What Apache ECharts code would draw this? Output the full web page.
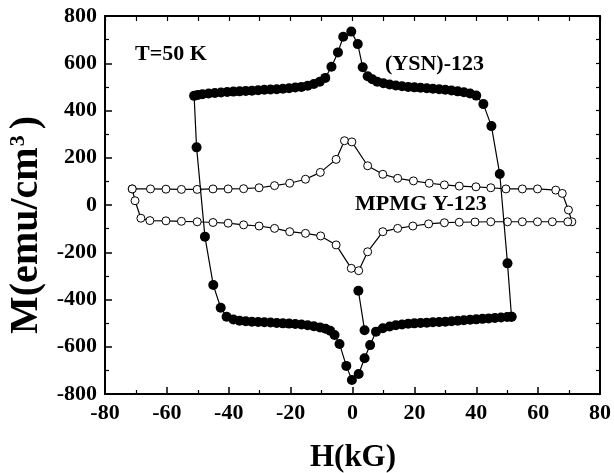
<!DOCTYPE html>
<html>
<head>
<meta charset="utf-8">
<script src="https://cdn.jsdelivr.net/npm/echarts@6/dist/echarts.min.js"></script>
<style>
  html, body { margin: 0; padding: 0; background: #fff; }
  #main { width: 614px; height: 473px; }
</style>
</head>
<body>
<div id="main"></div>
<script>
// (YSN)-123 loop, [H (kG), M (emu/cm3)], traced in sweep order
var ysnLoop = [
  [51.4,-473],[50.1,-247],[47.6,131],[44.9,334],[42.3,427],[40,463],[38,472],[36,477],
  [34,481],[32,485],[30,488],[28,490],[26,492],[24,494],[22,496],[20,498],[18,500],
  [16,503],[14,506],[12,510],[10,515],[8,522],[6.4,532],[4.9,545],[3.3,583],[1.7,681],
  [-0.4,734],[-3,712],[-4.7,646],[-6.8,585],[-8.8,538],[-10.6,522],[-12.5,512],
  [-14.5,505],[-16.5,500],[-18.5,497],[-20.5,494],[-22.5,492],[-24.5,490],[-26.5,489],
  [-28.5,488],[-30.5,486],[-32.5,484],[-34.5,483],[-36.5,481],[-38.5,480],[-40.5,478],
  [-42.5,476],[-44.5,474],[-46.5,472],[-48.5,469],[-50,466],[-51.2,462],
  [-50.4,244],[-47.7,-134],[-45,-339],[-42.6,-435],[-40.7,-473],[-38.5,-485],
  [-36.5,-490],[-34.5,-492],[-32.5,-494],[-30.5,-495],[-28.5,-496],[-26.5,-497],
  [-24.5,-499],[-22.5,-501],[-20.5,-502],[-18.5,-504],[-16.5,-506],[-14.5,-509],
  [-12.5,-513],[-10.5,-518],[-8.7,-524],[-7.2,-532],[-5.8,-550],[-4.2,-588],[-2,-681],
  [-0.2,-741],[2,-715],[3.9,-649],[5.7,-593],[7.6,-536],[9.8,-522],[12,-514],[14,-509],
  [16,-506],[18,-503],[20,-501],[22,-499],[24,-498],[26,-496],[28,-495],[30,-494],
  [32,-492],[34,-490],[36,-488],[38,-486],[40,-484],[42,-482],[44,-480],[46,-478],
  [48,-476],[50,-474],[51.4,-473]
];
// first points of the (YSN)-123 run
var ysnVirgin = [[1.9,-363],[3.9,-530]];

// MPMG Y-123 loop
var mpmgLoop = [
  [-71.2,68],[-65.3,68],[-60.3,67],[-55.3,66],[-50.2,66],[-45.1,68],[-40.2,68],
  [-35.2,69],[-30.2,73],[-25.2,82],[-20.3,92],[-15.2,109],[-10.4,138],[-5.3,193],
  [-2.6,272],[-0.2,267],[4.9,166],[9.8,130],[14.6,113],[19.7,102],[24.8,92],[29.7,85],
  [34.5,80],[39.9,77],[44.7,73],[49.6,68],[54.9,68],[59.8,68],[65.7,63],[67.8,49],
  [69.8,-21],[70.9,-71],[69.6,-71],[64.6,-71],[59.8,-71],[54.9,-71],[50.1,-71],
  [44.7,-71],[39.6,-72],[34.5,-73],[29.7,-75],[24.6,-80],[19.5,-89],[14.6,-99],
  [9.8,-113],[4.9,-198],[2,-278],[-0.4,-268],[-5.3,-169],[-10.3,-131],[-15.2,-120],
  [-20.3,-113],[-25.2,-99],[-30.2,-89],[-35.2,-84],[-40.2,-77],[-45.1,-74],[-50.2,-71],
  [-55.3,-69],[-60.3,-67],[-65.5,-66],[-68.4,-56],[-70.3,18],[-71.2,68]
];

var serif = '"Liberation Serif", "DejaVu Serif", serif';
var black = '#000';

var myChart = echarts.init(document.getElementById('main'), null, { renderer: 'canvas' });

var lineAxis = { onZero: false, lineStyle: { color: black, width: 2 } };
var noSplit = { show: false };

var option = {
  animation: false,
  backgroundColor: '#fff',
  grid: { left: 105, right: 13, top: 16, bottom: 79 },
  xAxis: [{
    type: 'value', min: -80, max: 80, interval: 20,
    axisLine: lineAxis,
    axisTick: { inside: true, length: 7, lineStyle: { color: black, width: 1.5 } },
    minorTick: { show: true, splitNumber: 2, length: 4, lineStyle: { color: black, width: 1.2 } },
    axisLabel: { color: black, fontFamily: serif, fontWeight: 'bold', fontSize: 22, margin: 8 },
    splitLine: noSplit
  }, {
    type: 'value', position: 'top', min: -80, max: 80, interval: 10,
    axisLine: lineAxis,
    axisTick: { inside: true, length: 5, lineStyle: { color: black, width: 1.2 } },
    axisLabel: { show: false },
    splitLine: noSplit
  }],
  yAxis: [{
    type: 'value', min: -800, max: 800, interval: 200,
    axisLine: lineAxis,
    axisTick: { inside: true, length: 7, lineStyle: { color: black, width: 1.5 } },
    minorTick: { show: true, splitNumber: 2, length: 4, lineStyle: { color: black, width: 1.2 } },
    axisLabel: { color: black, fontFamily: serif, fontWeight: 'bold', fontSize: 22, margin: 8 },
    splitLine: noSplit
  }, {
    type: 'value', position: 'right', min: -800, max: 800, interval: 100,
    axisLine: lineAxis,
    axisTick: { inside: true, length: 4, lineStyle: { color: black, width: 1.2 } },
    axisLabel: { show: false },
    splitLine: noSplit
  }],
  series: [{
    name: 'MPMG Y-123',
    type: 'line',
    data: mpmgLoop,
    symbol: 'circle',
    symbolSize: 8,
    showAllSymbol: true,
    itemStyle: { color: '#fff', borderColor: black, borderWidth: 1 },
    lineStyle: { color: black, width: 1.2 },
    z: 2
  }, {
    name: '(YSN)-123',
    type: 'line',
    data: ysnLoop,
    symbol: 'circle',
    symbolSize: 10,
    showAllSymbol: true,
    itemStyle: { color: black },
    lineStyle: { color: black, width: 1.2 },
    z: 3
  }, {
    name: '(YSN)-123 start',
    type: 'line',
    data: ysnVirgin,
    symbol: 'circle',
    symbolSize: 10,
    itemStyle: { color: black },
    lineStyle: { color: black, width: 1.2 },
    z: 3
  }],
  graphic: [
    { type: 'text', x: 135, y: 54, style: { text: 'T=50 K', fill: black, font: 'bold 22px ' + serif, verticalAlign: 'middle' } },
    { type: 'text', x: 385, y: 64, style: { text: '(YSN)-123', fill: black, font: 'bold 22px ' + serif, verticalAlign: 'middle' } },
    { type: 'text', x: 355, y: 204, style: { text: 'MPMG Y-123', fill: black, font: 'bold 22px ' + serif, verticalAlign: 'middle' } },
    { type: 'text', x: 353, y: 458, style: { text: 'H(kG)', fill: black, font: 'bold 31px ' + serif, align: 'center', verticalAlign: 'middle' } },
    {
      type: 'text', x: 27, y: 225, rotation: Math.PI / 2,
      style: {
        text: '{a|M(emu/cm}{s|3}{a|)}',
        align: 'center', verticalAlign: 'middle', fill: black,
        rich: {
          a: { fontFamily: serif, fontWeight: 'bold', fontSize: 40, fill: black },
          s: { fontFamily: serif, fontWeight: 'bold', fontSize: 22, fill: black, verticalAlign: 'top', padding: [0, 6, 0, 1] }
        }
      }
    }
  ]
};

myChart.setOption(option);
</script>
</body>
</html>
